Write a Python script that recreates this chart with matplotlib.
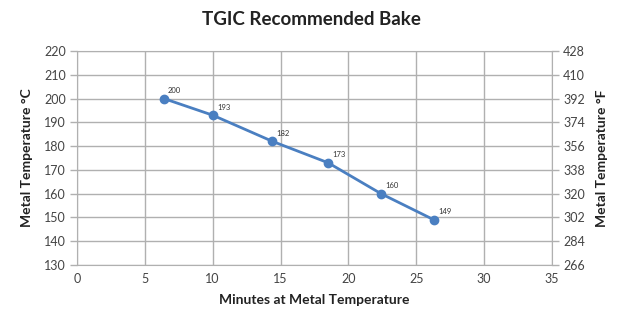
#!/usr/bin/env python3
# TGIC recommended bake curve, dual axis C / F
import matplotlib
matplotlib.use("Agg")
import matplotlib.pyplot as plt

minutes = [6.4, 10.0, 14.4, 18.5, 22.4, 26.3]
temp_c = [200, 193, 182, 173, 160, 149]
left_ticks = [130, 140, 150, 160, 170, 180, 190, 200, 210, 220]
right_labels = ["266", "284", "302", "320", "338", "356", "374", "392", "410", "428"]
x_ticks = [0, 5, 10, 15, 20, 25, 30, 35]

plt.rcParams["font.family"] = ["Lato", "DejaVu Sans"]

fig = plt.figure(figsize=(6.3, 3.22), dpi=100)
ax = fig.add_axes([77/630, 1-265/322, (552-77)/630, (265-51)/322])

ax.plot(minutes, temp_c, color="#4a7fc1", lw=2.0, marker="o", ms=6, zorder=3)
for x, y in zip(minutes, temp_c):
    ax.annotate(str(y), (x, y), xytext=(3, 4), textcoords="offset points",
                fontsize=5.5, color="#333333")

ax.set_xlim(0, 35)
ax.set_ylim(130, 220)
ax.set_xticks(x_ticks)
ax.set_yticks(left_ticks)
ax.grid(True, color="#b0b0b0", lw=1.0)
ax.set_axisbelow(True)
for s in ax.spines.values():
    s.set_color("#b0b0b0")
ax.tick_params(axis="x", length=0, pad=6, labelsize=9, colors="#444444")
ax.tick_params(axis="y", length=5, width=1, color="#b0b0b0", labelsize=9,
               labelcolor="#444444", pad=3)

ax2 = ax.twinx()
ax2.set_ylim(130, 220)
ax2.set_yticks(left_ticks)
ax2.set_yticklabels(right_labels)
for s in ax2.spines.values():
    s.set_visible(False)
ax2.tick_params(axis="y", length=5, width=1, color="#b0b0b0", labelsize=9,
                labelcolor="#444444", pad=3)

ax.set_xlabel("Minutes at Metal Temperature", fontsize=10, fontweight="bold",
              color="#222222", labelpad=6)
ax.set_ylabel("Metal Temperature °C", fontsize=10, fontweight="bold",
              color="#222222", labelpad=8)
ax2.set_ylabel("Metal Temperature °F", fontsize=10, fontweight="bold",
               color="#222222", labelpad=8)
fig.text(0.494, 0.94, "TGIC Recommended Bake", ha="center", va="center",
         fontsize=13.5, fontweight="bold", color="#222222")

fig.savefig("out.png", dpi=100)
